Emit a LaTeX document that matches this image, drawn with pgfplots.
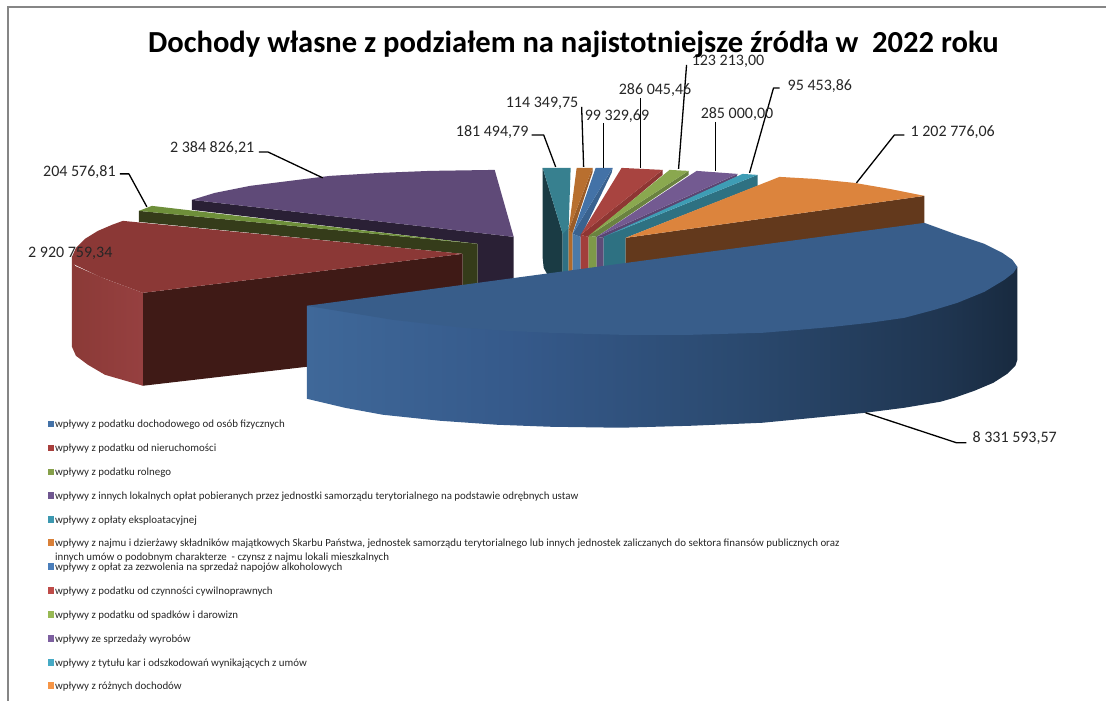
\documentclass[border=0pt]{standalone}
\usepackage{fontspec}
\setmainfont{Carlito}
\usepackage{pgfplots}
\pgfplotsset{compat=1.18}
\definecolor{frameg}{HTML}{868686}
\definecolor{lab}{HTML}{262626}
\definecolor{c0}{HTML}{3F6899}
\definecolor{c1}{HTML}{35598A}
\definecolor{c2}{HTML}{2B4A70}
\definecolor{c3}{HTML}{1F3550}
\definecolor{c4}{HTML}{182A3F}
\definecolor{r0}{HTML}{8B3A37}
\definecolor{r1}{HTML}{964040}
\pgfdeclarehorizontalshading{blueside}{100bp}{
 color(0bp)=(c0); color(25bp)=(c0); color(40bp)=(c1); color(55bp)=(c2); color(70bp)=(c3); color(75bp)=(c4); color(100bp)=(c4)}
\def\hexc#1{\definecolor{h#1}{HTML}{#1}}
\hexc{2A2035}\hexc{5F4A78}\hexc{353C1A}\hexc{6E8F3A}\hexc{3F1A16}\hexc{8B3836}
\hexc{1A3B44}\hexc{2E7083}\hexc{37808F}\hexc{B06A2B}\hexc{9A5C28}\hexc{B86F2F}
\hexc{4B7AA8}\hexc{3A628F}\hexc{4372A7}\hexc{A23E3B}\hexc{8E3633}\hexc{A84440}
\hexc{7E9A48}\hexc{6A8240}\hexc{8AA84F}\hexc{5E4C78}\hexc{5A4672}\hexc{735A91}
\hexc{2E7182}\hexc{3E9DB5}\hexc{63391C}\hexc{DC843D}\hexc{385D8A}
\hexc{4472A8}\hexc{A83F3C}\hexc{86A04A}\hexc{6F5690}\hexc{3C98B0}\hexc{D98038}
\hexc{4A7EBB}\hexc{BE4B48}\hexc{98B954}\hexc{7D60A0}\hexc{46AAC5}\hexc{F69546}
\newcommand\poly[2]{\addplot[fill=h#1,draw=none,forget plot] coordinates {#2} --cycle;}
\newcommand\leader[1]{\addplot[black,line width=1.3pt,line join=round,forget plot] coordinates {#1};}
\newcommand\lab[3]{\node[anchor=west,inner sep=0pt,yshift=-2pt,text=lab,font=\fontsize{16}{16}\selectfont] at (axis cs:#1,#2) {\strut #3};}
\newcommand\legmark[3]{\addplot[only marks,color=h#1,mark=square*,mark size=2.7pt,mark options={fill=h#1,draw=h#1,line width=0pt},forget plot] coordinates {(#2,#3)};}
\newcommand\legtext[2]{\node[anchor=west,inner sep=0pt,yshift=-2pt,text=lab,font=\fontsize{10.9}{10.9}\selectfont] at (axis cs:55,#1) {\strut #2};}
\begin{document}
\begin{tikzpicture}[x=1pt,y=1pt]
\begin{axis}[
  width=1107pt,height=702pt,scale only axis,
  xmin=0,xmax=1107,ymin=0,ymax=702,y dir=reverse,
  axis lines=none,clip=false]
% page extent
\addplot[draw=none,forget plot] coordinates {(0,0)(1107,702)};
\path (axis cs:0,0) rectangle (axis cs:1107,702);
% frame
\addplot[frameg,line width=1.6pt,forget plot] coordinates {(8,701)(8,7)(1106.9,7)};
% large purple
\poly{2A2035}{(192,200)(514,237)(514,284)(478,290)(478,244)(192,210)}
\poly{5F4A78}{(192,200)(215,193)(250,186)(290,181)(330,176)(380,173)(430,171)(495,170)(514,237)}
% rural green
\poly{353C1A}{(139,211)(478,244)(478,290)(463,292)(463,254)(139,222)}
\poly{6E8F3A}{(139,211)(152,206)(478,244)}
% large red
\poly{3F1A16}{(143,293)(463,254)(463,292)(307,312)(307,367)(143,386)}
\addplot[left color=r0,right color=r1,draw=none,forget plot] coordinates {(72,257)(72,347)(76,356)(88,365)(105,375)(143,386)(143,293)(105,279)(75,266)} --cycle;
\poly{8B3836}{(463,254)(123,221)(112,225)(98,231)(85,239)(76,248)(72,257)(73,264)(100,277)(143,293)}
% teal
\poly{1A3B44}{(543,168)(563,234)(563,276)(549,277)(544,268)(543,258)}
\poly{2E7083}{(563,234)(569,227)(569,276)(563,276)}
\poly{37808F}{(543,168)(571,168)(569,228)(563,234)}
% small orange
\poly{B06A2B}{(569,230)(573,233)(573,274)(569,275)}
\poly{9A5C28}{(593,168)(593,172)(573,233)(569,230)}
\poly{B86F2F}{(577,168)(593,168)(569,230)}
% small blue
\poly{4B7AA8}{(573,234)(581,237)(581,273)(573,274)}
\poly{3A628F}{(613,168)(612,173)(581,237)(573,234)}
\poly{4372A7}{(596,168)(613,168)(573,234)}
% small red
\poly{A23E3B}{(581,235)(589,237)(589,272)(581,273)}
\poly{8E3633}{(663,170)(663,175)(589,237)(581,235)}
\poly{A84440}{(622,168)(663,170)(581,235)}
% small green
\poly{7E9A48}{(589,236)(597,237)(597,271)(589,272)}
\poly{6A8240}{(689,171)(689,175)(597,237)(589,236)}
\poly{8AA84F}{(670,170)(689,171)(589,236)}
% small purple
\poly{5E4C78}{(597,237)(604,238)(604,270)(597,271)}
\poly{5A4672}{(738,174)(737,177)(604,238)(597,237)}
\poly{735A91}{(697,171)(738,174)(597,237)}
% small teal
\poly{2E7182}{(758,175)(758,186)(626,238)(626,268)(604,270)(604,237)}
\poly{3E9DB5}{(743,174)(758,175)(604,237)}
% large orange
\poly{63391C}{(626,238)(925,196)(925,224)(626,268)}
\poly{DC843D}{(780,177)(815,179)(855,183)(890,189)(925,196)(626,238)}
% main blue
\addplot[shading=blueside,draw=none,forget plot] coordinates {(307,306)(1018,267)(1018,360)(1016,366)(1008,374)(994,383)(975,391)(955,398)(941,402)(905,408)(866,413)(815,418)(763,423)(692,426)(621,428)(550,427)(497,425)(440,421)(383,415)(345,408)(307,399)} --cycle;
\poly{385D8A}{(307,306)(925,223)(958,235)(985,244)(1003,253)(1013,260)(1018,267)(1014,273)(1005,280)(985,292)(958,303)(935,310)(905,318)(870,323)(834,327)(800,330)(763,333)(727,334)(692,335)(656,335)(621,335)(585,334)(550,333)(507,331)(464,328)(428,324)(393,320)(350,313)}
% leaders
\leader{(120,174)(129,174)(147,207)}
\leader{(259,152)(268,152)(323,178)}
\leader{(532,135)(544,135)(556,167)}
\leader{(582,107)(584,167)}
\leader{(604,123)(604,168)}
\leader{(641,98)(641,168)}
\leader{(687,65)(679,169)}
\leader{(716,122)(716,171)}
\leader{(780,88)(774,88)(750,173)}
\leader{(857,183)(895,135)(905,135)}
\leader{(866,413)(957,443)(967,443)}
% labels
\lab{43}{171}{204 576,81}
\lab{170}{147}{2 384 826,21}
\lab{456}{131}{181 494,79}
\lab{506}{102}{114 349,75}
\lab{585}{115}{99 329,69}
\lab{619}{89}{286 045,46}
\lab{692}{60}{123 213,00}
\lab{701}{113}{285 000,00}
\lab{788}{85}{95 453,86}
\lab{911}{131}{1 202 776,06}
\lab{28}{252}{2 920 759,34}
\lab{973}{438}{8 331 593,57}
% title
\node[anchor=west,inner sep=0pt,yshift=-2pt,text=black,font=\fontsize{30.6}{31}\bfseries\selectfont] at (axis cs:148,42) {Dochody własne z podziałem na najistotniejsze źródła w\ \ 2022 roku};
% legend
\legmark{4472A8}{51}{424}\legtext{424}{wpływy z podatku dochodowego od osób fizycznych}
\legmark{A83F3C}{51}{448}\legtext{448}{wpływy z podatku od nieruchomości}
\legmark{86A04A}{51}{472}\legtext{472}{wpływy z podatku rolnego}
\legmark{6F5690}{51}{496}\legtext{496}{wpływy z innych lokalnych opłat pobieranych przez jednostki samorządu terytorialnego na podstawie odrębnych ustaw}
\legmark{3C98B0}{51}{520}\legtext{520}{wpływy z opłaty eksploatacyjnej}
\legmark{D98038}{51}{543}\legtext{543}{wpływy z najmu i dzierżawy składników majątkowych Skarbu Państwa, jednostek samorządu terytorialnego lub innych jednostek zaliczanych do sektora finansów publicznych oraz}
\legtext{557}{innych umów o podobnym charakterze\ \ - czynsz z najmu lokali mieszkalnych}
\legmark{4A7EBB}{51}{567}\legtext{567}{wpływy z opłat za zezwolenia na sprzedaż napojów alkoholowych}
\legmark{BE4B48}{51}{591}\legtext{591}{wpływy z podatku od czynności cywilnoprawnych}
\legmark{98B954}{51}{615}\legtext{615}{wpływy z podatku od spadków i darowizn}
\legmark{7D60A0}{51}{639}\legtext{639}{wpływy ze sprzedaży wyrobów}
\legmark{46AAC5}{51}{663}\legtext{663}{wpływy z tytułu kar i odszkodowań wynikających z umów}
\legmark{F69546}{51}{686}\legtext{686}{wpływy z różnych dochodów}
\end{axis}
\end{tikzpicture}
\end{document}
